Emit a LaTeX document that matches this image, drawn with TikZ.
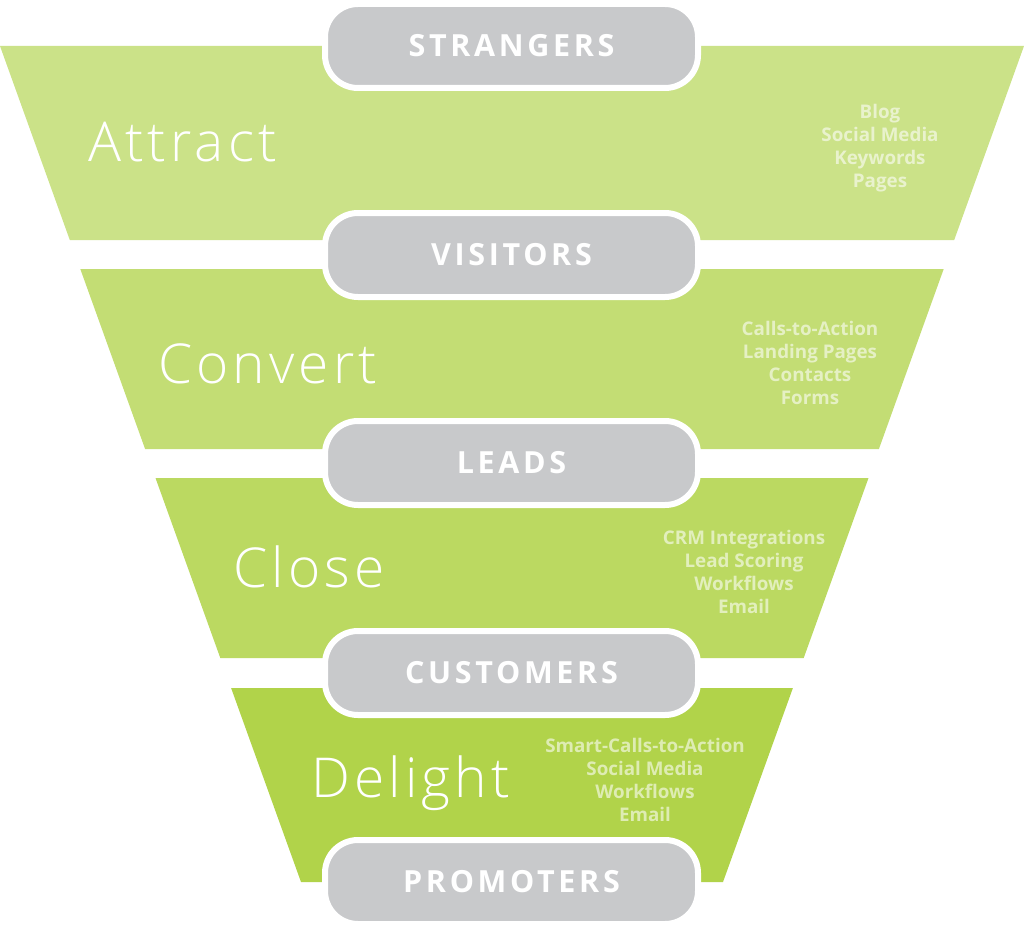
\documentclass[tikz,border=0pt]{standalone}
\usepackage{fontspec}
\setmainfont{Open Sans}
\newfontfamily\etapafont{Open Sans}[UprightFont=* Light, LetterSpace=7.5]
\newfontfamily\pildorafont{Open Sans}[LetterSpace=12]
\newfontfamily\listafont{Open Sans}

\definecolor{atraer}{HTML}{CBE288}
\definecolor{convertir}{HTML}{C3DD74}
\definecolor{cerrar}{HTML}{BBD961}
\definecolor{deleitar}{HTML}{B1D34A}
\definecolor{gris}{HTML}{C8C9CB}

\begin{document}
\begin{tikzpicture}[x=1pt,y=-1pt,
    pildora/.style={rectangle, rounded corners=33pt, fill=gris, draw=white, line width=6pt,
      minimum width=373pt, minimum height=84pt, inner sep=0pt, text=white,
      font=\pildorafont\bfseries\fontsize{30.5}{30.5}\selectfont},
    etapa/.style={anchor=base west, inner sep=0pt, text=white,
      font=\etapafont\fontsize{55}{55}\selectfont},
    lista/.style={align=center, inner sep=0pt, text=white, text opacity=0.58,
      font=\listafont\bfseries\fontsize{18.8}{23}\selectfont}]
    \useasboundingbox (0,0) rectangle (1024,928);

    % Bandas del embudo
    \fill[atraer] (0,46) -- (1024,46) -- (954.2,240) -- (69.8,240) -- cycle; % Attract
    \fill[convertir] (80.3,269) -- (943.7,269) -- (878.9,449) -- (145.1,449) -- cycle; % Convert
    \fill[cerrar] (155.5,478) -- (868.5,478) -- (803.7,658) -- (220.3,658) -- cycle; % Close
    \fill[deleitar] (231.1,688) -- (792.9,688) -- (723,882) -- (301,882) -- cycle; % Delight

    % Etapas
    \node[etapa] (attract) at (88,162) {Attract};
    \node[etapa] (convert) at (158,383) {Convert};
    \node[etapa] (close) at (233,587) {Close};
    \node[etapa] (delight) at (311,797) {Delight};

    % Herramientas de cada etapa
    \node[lista] (toolsA) at (880,148) {Blog\\Social Media\\Keywords\\Pages};
    \node[lista] (toolsB) at (810,363) {Calls-to-Action\\Landing Pages\\Contacts\\Forms};
    \node[lista] (toolsC) at (744,572) {CRM Integrations\\Lead Scoring\\Workflows\\Email};
    \node[lista] (toolsD) at (645,780) {Smart-Calls-to-Action\\Social Media\\Workflows\\Email};

    % Tipos de contacto
    \node[pildora] (strangers) at (511.5,46) {STRANGERS};
    \node[pildora] (visitors) at (511.5,255) {VISITORS};
    \node[pildora] (leads) at (511.5,463) {LEADS};
    \node[pildora] (customers) at (511.5,673) {CUSTOMERS};
    \node[pildora] (promoters) at (511.5,882) {PROMOTERS};

\end{tikzpicture}
\end{document}
